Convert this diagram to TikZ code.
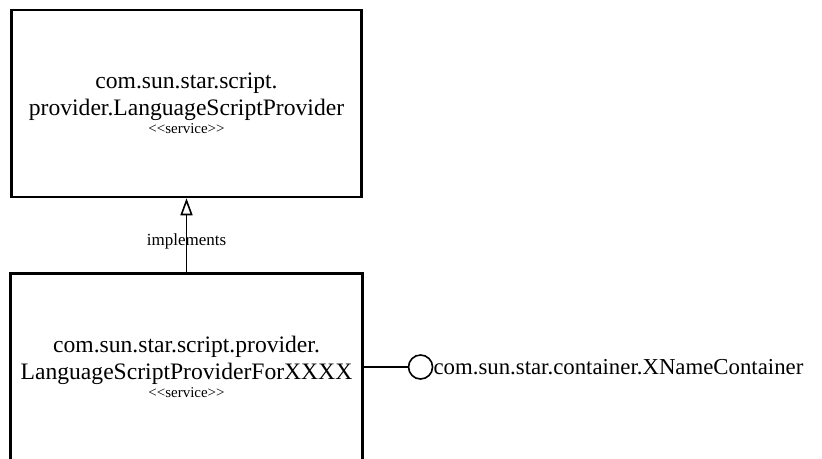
\documentclass[tikz,border=0pt]{standalone}
\usepackage{fontspec}
\setmainfont{Liberation Serif}
\usetikzlibrary{arrows.meta,positioning}

\newcommand{\stereo}{{\fontsize{15}{17}\selectfont <{}<service>{}>}}

\begin{document}
\begin{tikzpicture}[x=1pt,y=1pt,
  svc/.style={draw,line width=2.5pt,align=center,inner sep=0pt,
    minimum width=350pt,minimum height=187pt,
    font=\fontsize{23.6}{27}\selectfont},
  iface/.style={draw,circle,line width=1.6pt,minimum size=24pt,inner sep=0pt},
  impl/.style={-{Triangle[open,length=17pt,width=12pt,line width=1.6pt]},
    line width=1pt}]
\useasboundingbox (0,0) rectangle (822,-458);
\clip (0,0) rectangle (822,-458);
% the generic provider service
\node[svc] (lsp) at (186.5,-103.5)
  {com.sun.star.script.\\provider.LanguageScriptProvider\\[-9pt]\stereo};
% the language specific one, its lower edge runs off the page
\node[svc,minimum width=352pt,below=74pt of lsp] (lspx)
  {com.sun.star.script.provider.\\LanguageScriptProviderForXXXX\\[-9pt]\stereo};
\draw[impl] (lspx.north) -- node[pos=0.42,font=\fontsize{17}{19}\selectfont] {implements}
  (lspx.north |- lsp.south);
% exported interface (lollipop)
\node[iface,right=44pt of lspx] (xnc) {};
\node[right=0pt of xnc,inner sep=0pt,font=\fontsize{22.8}{27}\selectfont] (xncl)
  {com.sun.star.container.XNameContainer};
\draw[line width=2.5pt] (lspx) -- (xnc);
\end{tikzpicture}
\end{document}
